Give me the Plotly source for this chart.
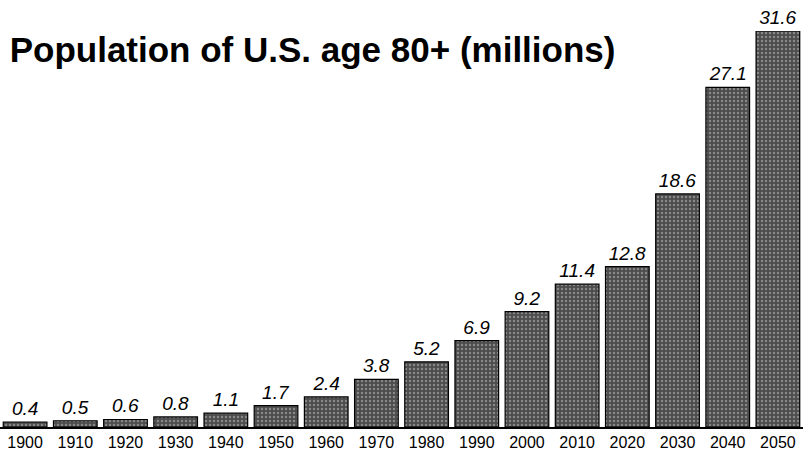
import plotly.graph_objects as go

years = ["1900", "1910", "1920", "1930", "1940", "1950", "1960", "1970",
         "1980", "1990", "2000", "2010", "2020", "2030", "2040", "2050"]
population = [0.4, 0.5, 0.6, 0.8, 1.1, 1.7, 2.4, 3.8, 5.2, 6.9, 9.2, 11.4, 12.8, 18.6, 27.1, 31.6]
labels = [f"{v:.1f}" for v in population]
title_text = "Population of U.S. age 80+ (millions)"

fig = go.Figure(go.Bar(
    x=years, y=population,
    text=labels, textposition="outside", cliponaxis=False,
    textfont=dict(family="Liberation Sans, Arial", size=19, color="black", style="italic"),
    marker=dict(
        color="#505050",
        line=dict(color="black", width=1.2),
        pattern=dict(shape=".", fgcolor="#c4c4c4", bgcolor="#4c4c4c", size=4, solidity=0.3),
    ),
))

fig.update_layout(
    width=806, height=452,
    margin=dict(l=0, r=3, t=31, b=25),
    paper_bgcolor="white", plot_bgcolor="white",
    bargap=0.13,
    showlegend=False,
    title=dict(text=f"<b>{title_text}</b>", x=0.012, xanchor="left", y=0.89, yanchor="middle",
               font=dict(family="Liberation Sans, Arial", size=35, color="black")),
    xaxis=dict(showline=True, linecolor="black", linewidth=1.5, ticks="",
               tickfont=dict(family="Liberation Sans, Arial", size=16, color="black"),
               showgrid=False, fixedrange=True),
    yaxis=dict(range=[0, 31.6], visible=False, showgrid=False, fixedrange=True),
)

fig.write_html("out.html", config={"displayModeBar": False},
               post_script="document.body.style.margin='0';document.body.style.overflow='hidden';")
